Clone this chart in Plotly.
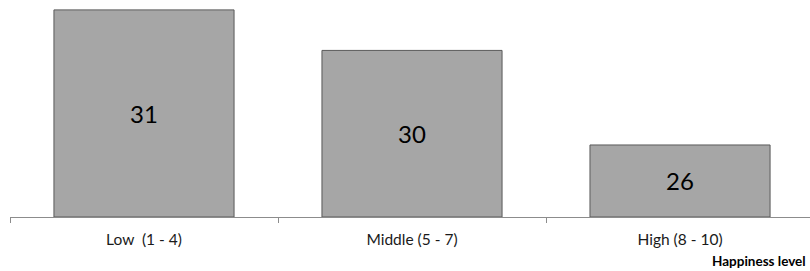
import plotly.graph_objects as go

categories = ["Low  (1 - 4)", "Middle (5 - 7)", "High (8 - 10)"]
values = [30.9, 29.55, 26.4]
axis_min = 24
axis_title = "Happiness level"

fig = go.Figure(go.Bar(
    x=categories, y=[v - axis_min for v in values], base=axis_min,
    marker=dict(color="#a6a6a6", line=dict(color="#595959", width=1)),
    text=[f"{v:.0f}" for v in values], textposition="inside", insidetextanchor="middle",
    textfont=dict(family="Lato", size=24, color="#000000"),
    width=0.672, hoverinfo="skip",
))

fig.update_layout(
    width=810, height=271,
    margin=dict(l=10, r=0, t=0, b=54),
    paper_bgcolor="white", plot_bgcolor="white",
    showlegend=False,
    font=dict(family="Lato", size=15.5, color="#1a1a1a"),
)
fig.update_xaxes(
    type="category", range=[-0.5, 2.485],
    showline=True, linecolor="#8c8c8c", linewidth=1,
    ticks="outside", tickson="boundaries", ticklen=5, tickcolor="#8c8c8c",
    ticklabelstandoff=8,
    showgrid=False, zeroline=False,
    tickfont=dict(family="Lato", size=15.5, color="#1a1a1a"),
)
fig.update_yaxes(
    range=[axis_min, 31.23], visible=False, showgrid=False, zeroline=False,
)
fig.add_annotation(
    text="<b>" + axis_title + "</b>", xref="paper", yref="paper",
    x=1, y=0, xanchor="right", yanchor="top", yshift=-34, xshift=-2,
    showarrow=False, font=dict(family="Lato", size=13.5, color="#000000"),
)

fig.write_html("out.html", config={"displayModeBar": False},
               post_script="document.body.style.margin='0';")
